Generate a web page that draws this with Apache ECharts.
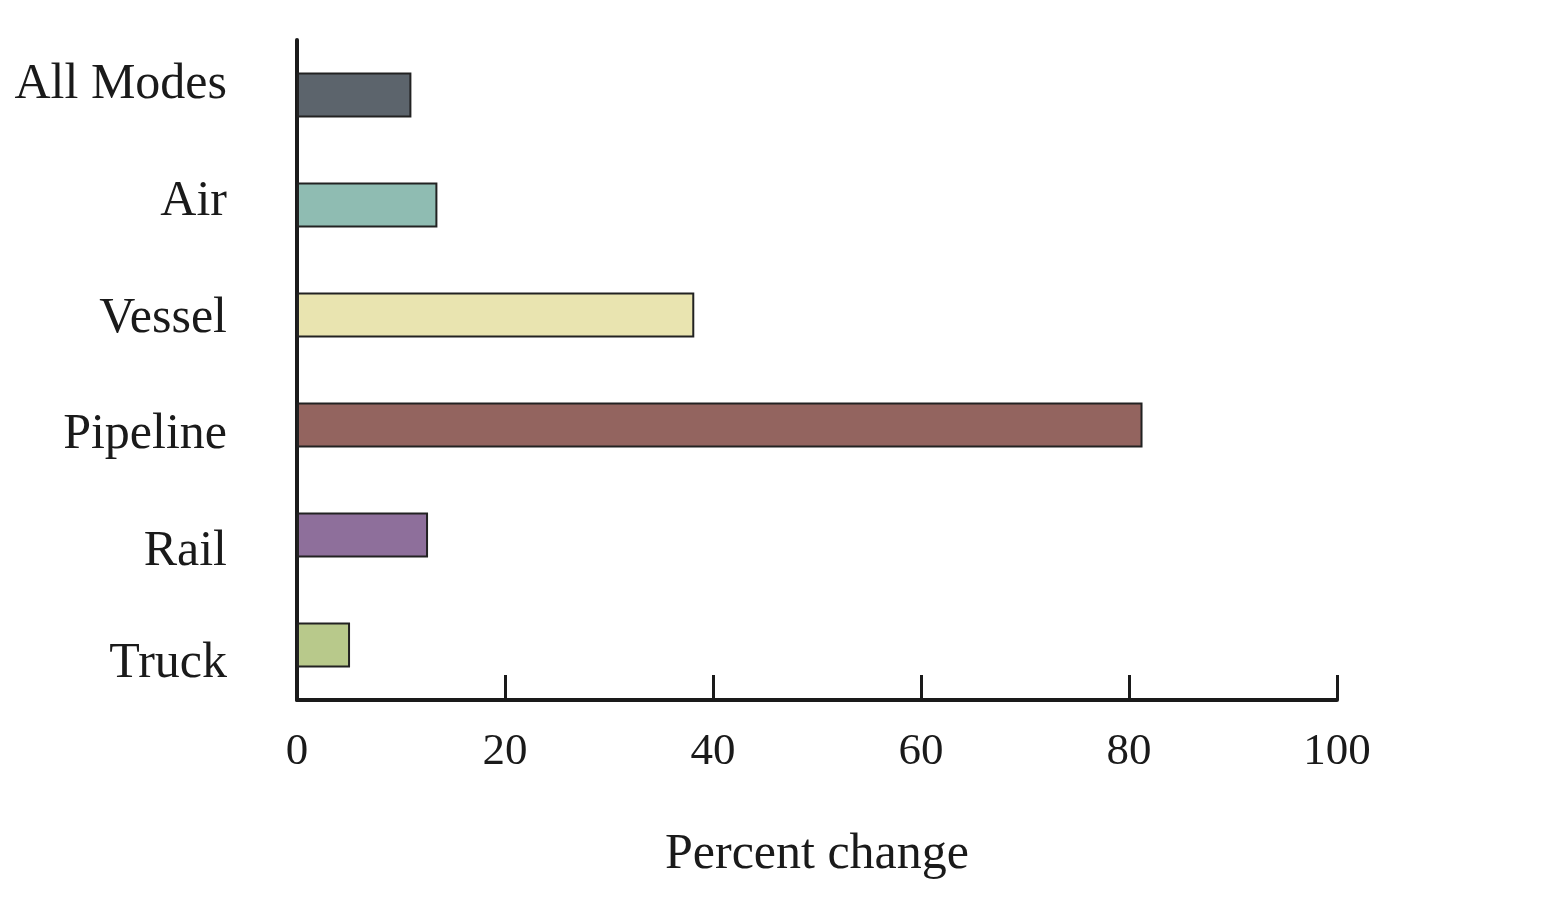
<!DOCTYPE html>
<html>
<head>
<meta charset="utf-8">
<title>Percent change by mode</title>
<script src="https://cdn.jsdelivr.net/npm/echarts@6/dist/echarts.min.js"></script>
<style>
  html, body { margin: 0; padding: 0; background: #fff; }
  #chart { width: 1558px; height: 902px; }
</style>
</head>
<body>
<div id="chart"></div>
<script>
// data
var modes = ['All Modes', 'Air', 'Vessel', 'Pipeline', 'Rail', 'Truck'];
var pctChange = [11.0, 13.5, 38.2, 81.3, 12.6, 5.1];
var barColors = ['#5c646c', '#8fbcb2', '#e9e4b0', '#93645f', '#8e6f9b', '#b8c98b'];
var xTicks = [0, 20, 40, 60, 80, 100];

// in the original the row labels drift downward a bit relative to the bars (px)
var labelNudge = [-10, -3, 4, 10, 17, 19];

var FONT = '"Liberation Serif", "Times New Roman", serif';
var INK = '#1a1a1a';

var chart = echarts.init(document.getElementById('chart'));

// category items carrying their own label alignment
var modeItems = modes.map(function (name, i) {
    var d = labelNudge[i];
    return {
        value: name,
        textStyle: {
            verticalAlign: d < 0 ? 'bottom' : 'top',
            lineHeight: Math.max(2, Math.abs(d) * 2)
        }
    };
});

var option = {
    backgroundColor: '#fff',
    animation: false,
    grid: { left: 297, right: 221, top: 40, bottom: 202, containLabel: false },
    xAxis: {
        type: 'value',
        min: xTicks[0],
        max: xTicks[xTicks.length - 1],
        interval: 20,
        name: 'Percent change',
        nameLocation: 'middle',
        nameGap: 130,
        nameTextStyle: { fontFamily: FONT, fontSize: 50, color: INK },
        axisLine: { show: true, lineStyle: { color: INK, width: 4 } },
        axisTick: { show: true, inside: true, length: 25, lineStyle: { color: INK, width: 3 } },
        axisLabel: { fontFamily: FONT, fontSize: 45, color: INK, margin: 30 },
        splitLine: { show: false }
    },
    yAxis: {
        type: 'category',
        data: modeItems,
        inverse: true,
        axisLine: { show: true, lineStyle: { color: INK, width: 4 } },
        axisTick: { show: false },
        axisLabel: {
            fontFamily: FONT, fontSize: 50, color: INK, margin: 70
        },
        splitLine: { show: false }
    },
    series: [{
        type: 'bar',
        barWidth: 45,
        data: pctChange.map(function (v, i) {
            return { value: v, itemStyle: { color: barColors[i] } };
        }),
        itemStyle: { borderColor: '#222', borderWidth: 2 }
    }]
};

chart.setOption(option);
</script>
</body>
</html>
